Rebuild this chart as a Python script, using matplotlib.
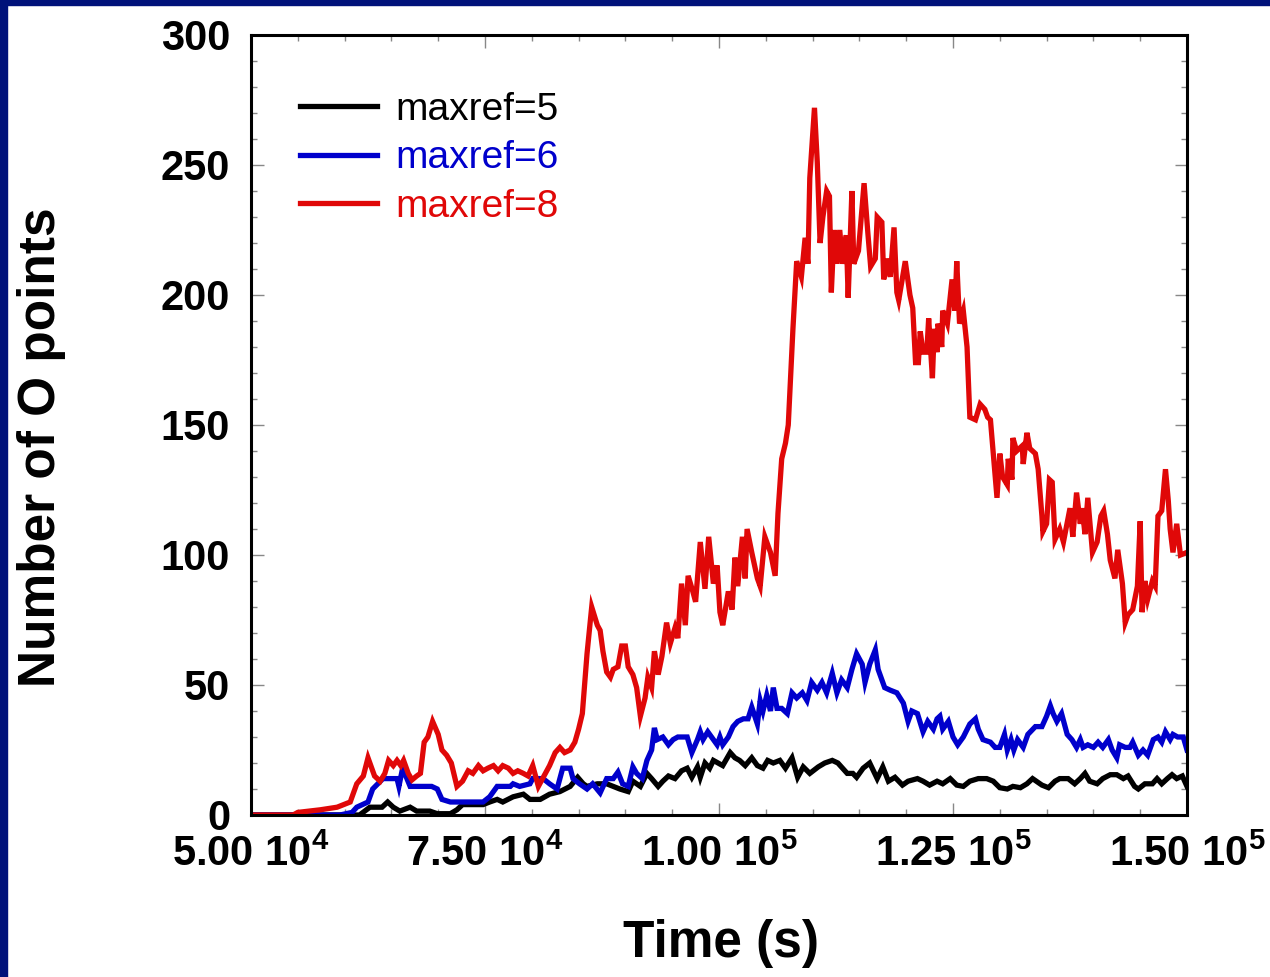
import numpy as np
import matplotlib
matplotlib.use('Agg')
import matplotlib.pyplot as plt
from matplotlib.patches import Rectangle
from matplotlib.ticker import MultipleLocator, FixedLocator

plt.rcParams['font.family'] = ['Liberation Sans', 'DejaVu Sans']
plt.rcParams['mathtext.fontset'] = 'custom'
plt.rcParams['mathtext.rm'] = 'Liberation Sans:bold'
plt.rcParams['mathtext.bf'] = 'Liberation Sans:bold'

# time in ks, number of O points
t_ref5 = [50.0, 61.6, 62.7, 64.0, 64.6, 65.2, 65.9, 67.0, 67.7, 69.1, 69.9, 71.3, 72.0, 72.6,
          74.1, 74.8, 75.5, 76.3, 76.9, 78.0, 79.1, 79.8, 80.9, 81.9, 83.0, 84.1, 84.9, 85.5,
          85.9, 87.0, 88.0, 88.7, 89.4, 90.3, 90.8, 91.6, 92.3, 92.8, 93.5, 94.0, 94.6, 95.3,
          96.0, 96.6, 97.1, 97.7, 98.0, 98.5, 99.0, 99.4, 99.9, 100.4, 101.2, 101.7, 102.2,
          102.8, 103.5, 104.1, 104.7, 105.2, 105.8, 106.5, 107.1, 107.8, 108.4, 109.0, 109.7,
          110.6, 111.3, 112.1, 112.7, 113.7, 114.3, 114.7, 115.4, 116.1, 116.9, 117.5, 118.1,
          118.8, 119.6, 120.2, 121.2, 121.8, 122.5, 123.3, 123.9, 124.7, 125.4, 126.1, 126.8,
          127.7, 128.6, 129.3, 130.0, 130.8, 131.4, 132.2, 132.9, 133.5, 134.5, 135.2, 135.9,
          136.4, 137.3, 138.0, 138.6, 139.1, 139.6, 140.4, 141.0, 141.8, 142.5, 143.2, 143.7,
          144.4, 144.8, 145.5, 146.3, 146.8, 147.3, 147.9, 148.4, 148.9, 149.5, 150.0]
n_ref5 = [0, 0, 3, 3, 5, 3, 1.5, 3, 1.5, 1.5, 0.5, 0.5, 2, 4,
          4, 4, 5, 6, 5, 7, 8, 6, 6, 8, 9, 11, 14.5, 12,
          11, 12, 12, 11, 10, 9, 13, 11, 16, 14, 11, 13, 15, 14,
          17, 18, 14.5, 18.5, 14.5, 20, 18, 21, 20, 19, 24, 22, 21,
          19, 22, 19, 18, 21, 20, 21, 18, 22, 14.5, 18.5, 16,
          18.5, 20, 21, 20, 16, 16, 14.5, 18, 20, 14, 18.5, 13,
          14.5, 11.5, 13, 14, 13, 11.5, 13, 12, 14, 11.5, 11, 13,
          14, 14, 13, 10.5, 10, 11, 10.5, 12, 14, 11.5, 10.5, 13,
          14, 14, 12, 14, 16, 13, 12, 14, 15.5, 15.5, 14, 15,
          11, 10, 12, 12, 14, 12, 14, 15.5, 14, 15, 11]

t_ref6 = [50.0, 59.5, 60.8, 61.3, 62.5, 63.0, 64.1, 64.9, 65.6, 65.8, 66.2, 67.0, 67.7, 68.4,
          69.3, 69.9, 70.4, 71.3, 73.0, 74.8, 75.5, 76.3, 77.7, 78.0, 78.7, 79.8, 80.1, 81.2,
          81.9, 82.7, 83.3, 84.1, 84.4, 85.1, 85.9, 86.5, 87.3, 88.0, 88.7, 89.2, 89.7, 90.3,
          90.8, 91.2, 91.8, 92.3, 92.8, 93.1, 93.4, 94.0, 94.6, 95.1, 95.6, 96.6, 97.1, 97.7,
          98.0, 98.3, 98.8, 99.4, 99.8, 100.1, 100.4, 101.0, 101.5, 102.0, 102.6, 103.1, 103.5,
          104.1, 104.4, 104.7, 105.1, 105.5, 105.8, 106.2, 106.7, 107.3, 107.8, 108.3, 108.9,
          109.4, 109.9, 110.5, 111.0, 111.5, 112.1, 112.6, 113.1, 113.7, 114.2, 114.7, 115.3,
          115.6, 116.1, 116.7, 117.0, 117.7, 118.3, 119.0, 119.7, 120.2, 120.6, 121.2, 121.8,
          122.3, 122.9, 123.3, 123.6, 123.9, 124.5, 125.0, 125.5, 126.1, 126.8, 127.4, 127.7,
          128.2, 129.0, 129.5, 130.0, 130.5, 130.8, 131.2, 131.5, 131.9, 132.5, 133.0, 133.8,
          134.5, 135.0, 135.4, 135.7, 136.1, 136.6, 137.2, 137.7, 138.2, 138.6, 138.9, 139.4,
          140.0, 140.5, 141.0, 141.6, 142.0, 142.5, 142.8, 143.4, 143.9, 144.2, 144.8, 145.3,
          145.8, 146.4, 146.9, 147.3, 147.7, 148.2, 148.5, 149.0, 149.6, 150.0]
n_ref6 = [0, 0, 1, 3, 5, 10, 14, 14, 14, 11, 18, 11, 11, 11,
          11, 10, 6, 5, 5, 5, 7, 11, 11, 12, 11, 12, 14, 14,
          12, 10, 18, 18, 14, 12, 10, 12, 8.5, 14, 14, 16.5, 12, 11,
          18.5, 16, 14, 21, 25, 33.5, 29, 30, 27, 29, 30, 30, 24, 29,
          32, 29, 32, 29, 27, 30, 27, 30, 34, 36, 37, 37, 41.5,
          35, 44, 40, 46, 40, 49, 41, 41, 39, 47, 45, 47,
          44, 51, 48, 51, 47, 54.5, 47, 52, 49, 56, 62, 58,
          51, 58, 63.5, 56, 49, 48, 47, 43, 36, 40, 39, 32,
          36, 33, 37, 38, 33, 36, 30, 27, 30, 35, 37, 33,
          29, 28, 26, 26, 31, 25, 29, 25, 29, 26, 31, 34,
          34, 38, 42, 39, 36, 39, 31, 29, 26, 29, 26, 27,
          26, 28, 26, 29, 25, 22, 27, 26, 26, 28, 23, 25,
          23, 29, 30, 28, 32, 29, 31, 30, 30, 25]

t_ref8 = [50.0, 54.5, 55.0, 57.4, 59.2, 60.6, 61.3, 62.0, 62.5, 63.2, 63.8, 64.3, 64.7, 65.2,
          65.6, 66.0, 66.3, 66.8, 67.2, 67.7, 68.1, 68.5, 68.9, 69.4, 70.0, 70.4, 70.9, 71.4,
          72.0, 72.6, 73.2, 73.7, 74.3, 74.8, 75.3, 75.9, 76.4, 76.9, 77.5, 78.0, 78.5, 79.1,
          79.6, 80.1, 80.7, 81.3, 81.9, 82.5, 83.0, 83.5, 84.1, 84.6, 85.0, 85.4, 85.9, 86.4,
          87.0, 87.3, 87.6, 88.0, 88.4, 88.7, 89.2, 89.6, 90.0, 90.3, 90.8, 91.2, 91.6, 92.1,
          92.4, 92.8, 93.1, 93.5, 93.9, 94.4, 94.8, 95.3, 95.6, 96.0, 96.4, 96.7, 97.2, 97.5,
          98.0, 98.5, 98.9, 99.4, 99.8, 100.1, 100.4, 101.0, 101.4, 101.7, 102.0, 102.5, 102.8,
          103.0, 103.5, 104.1, 104.4, 104.9, 105.5, 106.0, 106.3, 106.7, 107.1, 107.4, 107.9,
          108.3, 108.8, 109.2, 109.5, 109.7, 110.2, 110.5, 110.8, 111.1, 111.5, 111.8, 112.0,
          112.3, 112.6, 112.9, 113.2, 113.6, 113.8, 114.2, 114.4, 114.9, 115.5, 115.9, 116.2,
          116.7, 116.9, 117.4, 117.6, 117.9, 118.3, 118.7, 119.0, 119.2, 119.9, 120.4, 120.7,
          121.0, 121.3, 121.5, 121.8, 122.2, 122.4, 122.8, 123.0, 123.3, 123.4, 123.8, 123.9,
          124.4, 124.9, 125.2, 125.4, 125.7, 126.1, 126.5, 126.8, 127.4, 127.9, 128.4, 128.7,
          129.0, 129.3, 129.7, 130.0, 130.3, 130.8, 130.9, 131.3, 131.4, 131.8, 132.4, 132.5,
          132.9, 133.2, 133.8, 134.1, 134.5, 134.6, 135.0, 135.3, 135.6, 135.9, 136.4, 136.8,
          137.5, 137.8, 138.2, 138.6, 138.8, 139.1, 139.4, 139.9, 140.4, 140.8, 141.1, 141.5,
          141.8, 142.3, 142.6, 143.1, 143.4, 143.7, 144.2, 144.7, 145.0, 145.2, 145.5, 145.8,
          146.3, 146.6, 146.9, 147.3, 147.7, 148.0, 148.2, 148.5, 148.9, 149.3, 150.0]
n_ref8 = [0, 0, 1, 2, 3, 5, 12, 15, 22, 15, 13, 16, 21, 19,
          21, 19, 21, 16, 13.5, 15, 16, 28, 30, 36, 31, 25, 23, 20,
          11, 13, 17, 16, 19, 17, 18, 19, 17, 19, 18, 16, 17, 16,
          15, 19, 11, 15, 19, 24, 26, 24, 25, 28, 33, 39, 62, 80,
          73, 71, 63, 55, 53, 56, 57, 65, 65, 57, 54, 49, 38, 45,
          53, 49, 63, 54, 61, 74, 66, 72, 68, 89, 73, 92, 86, 82,
          105, 87, 107, 89, 96, 78, 73, 86, 79, 99, 88, 107, 91,
          110, 101, 91, 88, 107, 101, 92, 116, 137, 143, 150, 187,
          213, 207, 222, 212, 245, 272, 251, 220, 230, 240, 238, 201,
          225, 212, 225, 212, 223, 199, 240, 212, 217, 243, 224, 211,
          214, 230, 228, 206, 214, 207, 226, 201, 198, 213, 200, 195,
          174, 174, 186, 178, 178, 191, 168, 187, 178, 189, 180, 194,
          189, 206, 194, 213, 189, 194, 180, 153, 152, 158, 156, 153,
          152, 139, 122, 139, 130, 127, 137, 129, 145, 140, 142, 135,
          147, 141, 139, 133, 115, 109, 112, 129, 128, 106, 110, 105,
          118, 107, 124, 112, 118, 108, 122, 101, 105, 115, 117, 108,
          98, 91, 102, 89, 74, 77, 79, 88, 113, 78, 90, 83,
          90, 88, 115, 117, 133, 121, 110, 101, 112, 100, 101]

series = [('maxref=5', t_ref5, n_ref5, 'black'),
          ('maxref=6', t_ref6, n_ref6, '#0000cc'),
          ('maxref=8', t_ref8, n_ref8, '#e00808')]

xtick_vals = [5.0e4, 7.5e4, 1.0e5, 1.25e5, 1.5e5]
xtick_labels = ['5.00 10$^{4}$', '7.50 10$^{4}$', '1.00 10$^{5}$', '1.25 10$^{5}$', '1.50 10$^{5}$']

fig = plt.figure(figsize=(12.7, 9.77), dpi=100)
ax = fig.add_axes([251 / 1270, 1 - 815 / 977, 936 / 1270, 780 / 977])

for label, t, n, c in series:
    ax.plot(np.array(t) * 1e3, n, color=c, lw=3.8, label=label, solid_joinstyle='miter')

ax.set_xlim(5e4, 1.5e5)
ax.set_ylim(0, 300)
ax.xaxis.set_major_locator(FixedLocator(xtick_vals))
ax.set_xticklabels(xtick_labels, fontweight='bold')
ax.xaxis.set_minor_locator(MultipleLocator(5000))
ax.yaxis.set_major_locator(MultipleLocator(50))
ax.yaxis.set_minor_locator(MultipleLocator(10))

ax.tick_params(which='both', direction='in', top=True, right=True, color='#888888', width=1.0)
ax.tick_params(which='major', length=9)
ax.tick_params(which='minor', length=4.5)
ax.tick_params(axis='x', which='major', labelsize=30, pad=14)
ax.tick_params(axis='y', which='major', labelsize=30, pad=15)
for lab in ax.get_yticklabels():
    lab.set_fontweight('bold')
for s in ax.spines.values():
    s.set_linewidth(2.2)

ax.set_xlabel('Time (s)', fontsize=37, fontweight='bold')
ax.set_ylabel('Number of O points', fontsize=37, fontweight='bold')
ax.xaxis.set_label_coords(0.502, -0.133)
ax.yaxis.set_label_coords(-0.198, 0.471)

ax.legend(loc='upper left', bbox_to_anchor=(0.052, 0.927), frameon=False, fontsize=28,
          handlelength=2.0, handletextpad=0.45, labelspacing=0.32, borderpad=0,
          borderaxespad=0, labelcolor='linecolor')

# navy frame along top and left edge
fig.patches.append(Rectangle((0, 1 - 5 / 977), 1, 5 / 977, transform=fig.transFigure,
                             color='#00127a', zorder=10))
fig.patches.append(Rectangle((0, 0), 7 / 1270, 1, transform=fig.transFigure,
                             color='#00127a', zorder=10))

fig.savefig('out.png', dpi=100)
